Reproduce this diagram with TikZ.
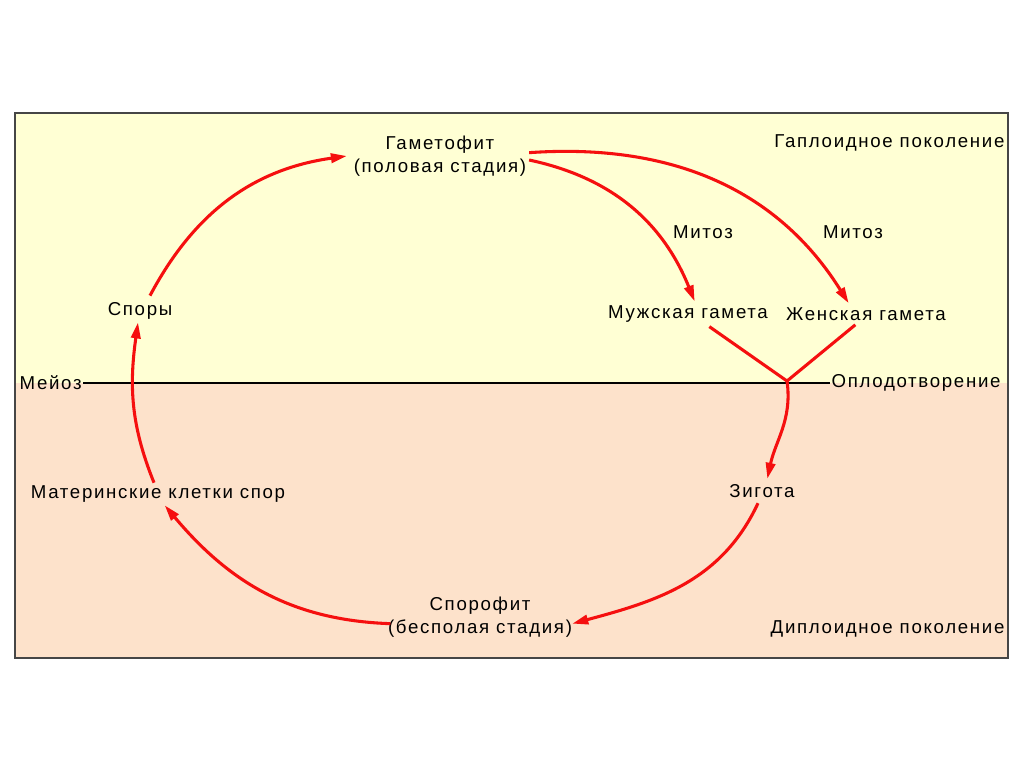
\documentclass[tikz,border=0pt]{standalone}
\usepackage{fontspec}
\setmainfont{Liberation Sans}[LetterSpace=9]
\usetikzlibrary{arrows.meta}
\definecolor{hapl}{RGB}{255,255,212}
\definecolor{dipl}{RGB}{253,226,203}
\definecolor{frame}{RGB}{70,70,70}
\definecolor{arr}{RGB}{245,15,15}
\begin{document}
\begin{tikzpicture}[x=0.75pt,y=-0.75pt,
  lbl/.style={inner sep=1pt,font=\fontsize{14}{17.5}\selectfont,text=black},
  cyc/.style={draw=arr,line width=2.3pt,-{Triangle[length=12pt,width=7pt]}},
  cycline/.style={draw=arr,line width=2.3pt}]
\useasboundingbox (0,0) rectangle (1024,768);
\fill[hapl] (15,113) rectangle (1008,383);
\fill[dipl] (15,383) rectangle (1008,658);
\draw[frame,line width=1.2pt] (15,113) rectangle (1008,658);
% labels
\node[lbl,align=center] (gam) at (440,156) {Гаметофит\\(половая стадия)};
\node[lbl,anchor=east] (hapl) at (1006,143) {Гаплоидное поколение};
\node[lbl] (mit1) at (703,232) {Митоз};
\node[lbl] (mit2) at (853,232) {Митоз};
\node[lbl] (male) at (688,314) {Мужская гамета};
\node[lbl] (female) at (866,314) {Женская гамета};
\node[lbl] (spory) at (140,311) {Споры};
\node[lbl,anchor=west] (meioz) at (18,383) {Мейоз};
\node[lbl,anchor=west] (oplod) at (830,383) {Оплодотворение};
\node[lbl] (mat) at (158,494) {Материнские клетки спор};
\node[lbl] (zig) at (762,491) {Зигота};
\node[lbl,align=center] (spor) at (480,617) {Спорофит\\(бесполая стадия)};
\node[lbl,anchor=east] (dipl) at (1006,629) {Диплоидное поколение};
\coordinate (fert) at (787,381);
% horizontal line
\draw[black,line width=0.8pt] (meioz.east) -- (oplod.west);
% cycle
\draw[cyc] ([xshift=7.5pt,yshift=4pt]spory.north) to[out=62,in=188] ([xshift=-4pt]gam.west);
\draw[cyc] ([xshift=1pt,yshift=-3pt]gam.east) to[out=-12,in=112] ([xshift=5pt,yshift=2pt]male.north);
\draw[cyc] ([xshift=1pt,yshift=2.5pt]gam.east) to[out=4,in=122] ([xshift=-13pt,yshift=2pt]female.north);
\draw[cycline] ([xshift=16pt,yshift=-2pt]male.south) -- (fert);
\draw[cycline] ([xshift=-8pt,yshift=-2pt]female.south) -- (fert);
\draw[cyc] (fert) to[out=-82,in=78] ([xshift=4pt,yshift=3pt]zig.north);
\draw[cyc] ([xshift=-3pt,yshift=-3pt]zig.south) to[out=-115,in=15] ([xshift=-1pt,yshift=-5pt]spor.east);
\draw[cyc] ([xshift=3pt,yshift=-5pt]spor.west) to[out=178,in=-50] ([xshift=5pt,yshift=-1pt]mat.south);
\draw[cyc] ([xshift=-3pt,yshift=1pt]mat.north) to[out=112,in=-98] ([xshift=-1.5pt,yshift=-1pt]spory.south);
\end{tikzpicture}
\end{document}
